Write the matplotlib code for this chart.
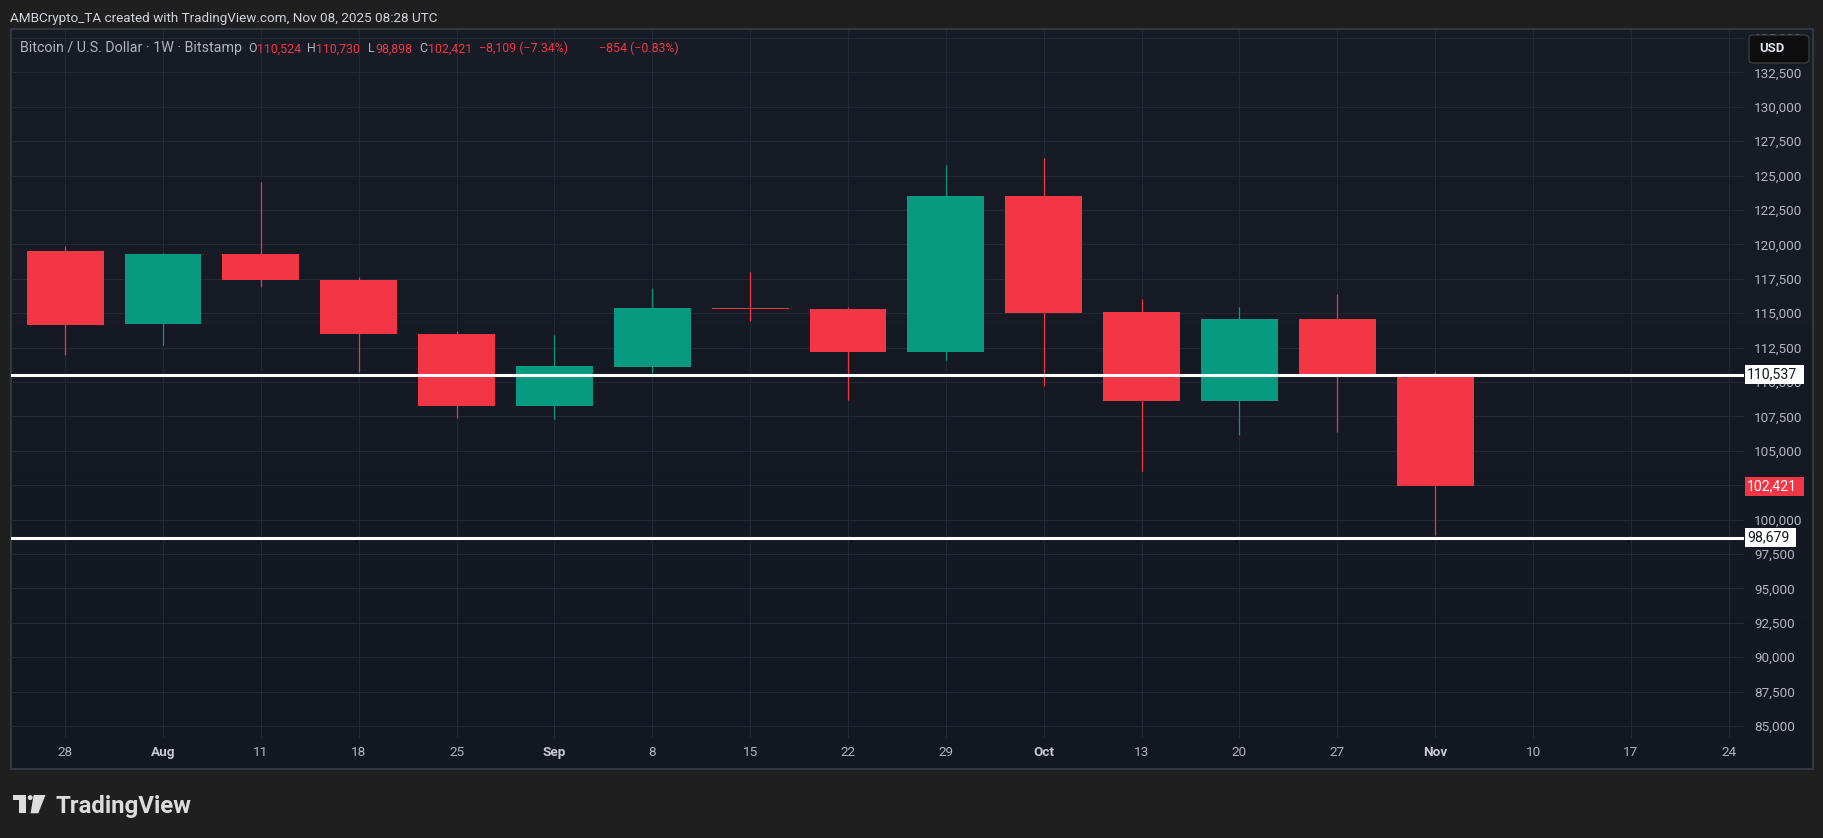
import matplotlib
matplotlib.use("Agg")
import matplotlib.pyplot as plt
import numpy as np
from matplotlib.colors import LinearSegmentedColormap
from matplotlib.patches import FancyBboxPatch, Polygon, Circle, Rectangle

plt.rcParams["font.family"] = ["Roboto", "DejaVu Sans"]

W, H, DPI = 1824, 838, 100

# weekly BTC/USD candles, Bitstamp (week of Jul 28 .. Nov 3, 2025)
week_labels = ["28", "Aug", "11", "18", "25", "Sep", "8", "15", "22", "29",
               "Oct", "13", "20", "27", "Nov", "10", "17", "24"]
month_labels = {"Aug", "Sep", "Oct", "Nov"}
opens = [119520, 114200, 119300, 117430, 113480, 108260, 111100, 115300,
         115300, 112200, 123520, 115090, 108620, 114580, 110524]
highs = [119900, 119350, 124560, 117630, 113700, 113420, 116830, 117970,
         115450, 125770, 126280, 116030, 115450, 116400, 110730]
lows = [111960, 112690, 116930, 110730, 107400, 107310, 110680, 114460,
        108690, 111600, 109730, 103550, 106170, 106390, 98898]
closes = [114150, 119300, 117430, 113470, 108260, 111160, 115380, 115270,
          112180, 123520, 115040, 108620, 114580, 110530, 102421]
support_levels = [110537, 98679]
price_ticks = [85000, 87500, 90000, 92500, 95000, 97500, 100000, 102500,
               105000, 107500, 110000, 112500, 115000, 117500, 120000,
               122500, 125000, 127500, 130000, 132500, 135000]

BG_OUT = "#1f1f1f"
PANEL_TOP = "#181c27"
PANEL_BOT = "#131722"
GRID = "#232834"
UP = "#089981"
DOWN = "#f23645"
AXIS_TXT = "#b2b5be"
TITLE_TXT = "#d1d4dc"

# plot area in pixels (from top-left)
PL, PR, PT, PB = 11, 1744, 30, 737.7
Y0, Y1 = 84150, 135580


def fx(x):
    return x / W


def fy(y):
    return 1 - y / H


def price_to_px(p):
    return PB - (p - Y0) / (Y1 - Y0) * (PB - PT)


fig = plt.figure(figsize=(W / DPI, H / DPI), dpi=DPI, facecolor=BG_OUT)

# chart panel with a soft vertical gradient
bg = fig.add_axes([fx(11), fy(769), fx(1813 - 11), (769 - 29) / H])
bg.imshow(np.linspace(0, 1, 256).reshape(-1, 1), aspect="auto", extent=[0, 1, 0, 1],
          cmap=LinearSegmentedColormap.from_list("panel", [PANEL_TOP, PANEL_BOT]))
bg.set_xticks([])
bg.set_yticks([])
for s in bg.spines.values():
    s.set_color("#34373f")
    s.set_linewidth(1.5)
bg.set_zorder(0)

# price plot
ax = fig.add_axes([fx(PL), fy(PB), fx(PR - PL), (PB - PT) / H])
ax.set_zorder(1)
ax.patch.set_alpha(0)
ax.set_xlim(-0.553, 17.156)
ax.set_ylim(Y0, Y1)
for s in ax.spines.values():
    s.set_visible(False)

ax.set_xticks(range(len(week_labels)))
ax.set_xticklabels(week_labels)
ax.set_yticks(price_ticks)
ax.set_yticklabels([f"{v:,}" for v in price_ticks])
ax.yaxis.tick_right()
ax.tick_params(axis="y", length=0, pad=7.2, labelsize=9.7, labelcolor=AXIS_TXT)
ax.tick_params(axis="x", length=0, pad=6.0, labelsize=9.7, labelcolor=AXIS_TXT)
for lbl in ax.get_xticklabels():
    if lbl.get_text() in month_labels:
        lbl.set_fontweight("bold")
        lbl.set_color("#c9cbd2")
# the last-price tag hides the scale label sitting right under it
for tick, lbl in zip(price_ticks, ax.get_yticklabels()):
    if abs(price_to_px(tick) - price_to_px(closes[-1])) < 6:
        lbl.set_visible(False)
ax.grid(True, color=GRID, lw=0.8)
ax.set_axisbelow(True)

xs = np.arange(len(opens))
o = np.array(opens)
c = np.array(closes)
colors = [UP if cc >= oo else DOWN for oo, cc in zip(o, c)]
ax.vlines(xs, lows, highs, colors=colors, lw=0.9, zorder=2)
body = np.maximum(np.abs(c - o), 80)
ax.bar(xs, body, bottom=np.minimum(o, c), width=0.785, color=colors, lw=0, zorder=3)

for lvl in support_levels:
    ax.axhline(lvl, color="white", lw=2.2, zorder=4)

# pixel-space overlay for header, price-scale tags, button and logo
deco = fig.add_axes([0, 0, 1, 1])
deco.set_zorder(2)
deco.patch.set_alpha(0)
deco.set_xlim(0, W)
deco.set_ylim(H, 0)
deco.axis("off")

renderer = fig.canvas.get_renderer()
tags = [(v, "white", "#131722") for v in support_levels] + [(closes[-1], DOWN, "white")]
for val, fc, tc in tags:
    yp = price_to_px(val)
    t = deco.text(1747, yp, f"{val:,}", fontsize=10.2, color=tc, ha="left",
                  va="center", zorder=6)
    bb = t.get_window_extent(renderer)
    deco.add_patch(Rectangle((1745, yp - 9.5), bb.width + 9, 19, fc=fc, ec="none", zorder=5))

deco.text(10.5, 21.7, "AMBCrypto_TA created with TradingView.com, Nov 08, 2025 08:28 UTC",
          fontsize=9.7, color=TITLE_TXT, va="baseline", ha="left")

chg = closes[-1] - closes[-2]
pct = chg / closes[-2] * 100
deco.text(20, 52.3, "Bitcoin / U.S. Dollar \u00b7 1W \u00b7 Bitstamp", fontsize=10.3,
          color=AXIS_TXT, va="baseline", ha="left")
hdr = [
    (247.8, "O", AXIS_TXT), (257, f"{opens[-1]:,}", DOWN),
    (307, "H", AXIS_TXT), (316.4, f"{highs[-1]:,}", DOWN),
    (367.6, "L", AXIS_TXT), (375.7, f"{lows[-1]:,}", DOWN),
    (418.8, "C", AXIS_TXT), (428, f"{closes[-1]:,}", DOWN),
    (479.3, f"\u2212{abs(chg):,} (\u2212{abs(pct):.2f}%)", DOWN),
    (599.1, "\u2212854 (\u22120.83%)", DOWN),
]
for x, s, col in hdr:
    deco.text(x, 52.3, s, fontsize=8.9, color=col, va="baseline", ha="left")

btn = FancyBboxPatch((1749, 35), 60, 28, boxstyle="round,pad=0,rounding_size=4",
                     fc="#0e0e0e", ec="#3a3a3a", lw=1.0, zorder=5)
deco.add_patch(btn)
deco.text(1759, 49, "USD", fontsize=9.4, color="#e0e3eb", va="center", ha="left",
          fontweight="bold", zorder=6)

# TradingView logo
LOGO = "#dcdcdc"
deco.add_patch(Polygon([(13.3, 795), (26, 795), (26, 813.3), (19.3, 813.3),
                        (19.3, 800.3), (13.3, 800.3)], closed=True, fc=LOGO, ec="none"))
deco.add_patch(Circle((30.2, 797.6), 2.5, fc=LOGO, ec="none"))
deco.add_patch(Polygon([(33.6, 795), (45.5, 795), (38.3, 813.3), (30.6, 813.3)],
                       closed=True, fc=LOGO, ec="none"))
deco.text(56, 813.3, "TradingView", fontsize=17.3, fontweight="bold", color=LOGO,
          va="baseline", ha="left")

fig.savefig("out.png", dpi=DPI, facecolor=BG_OUT)
